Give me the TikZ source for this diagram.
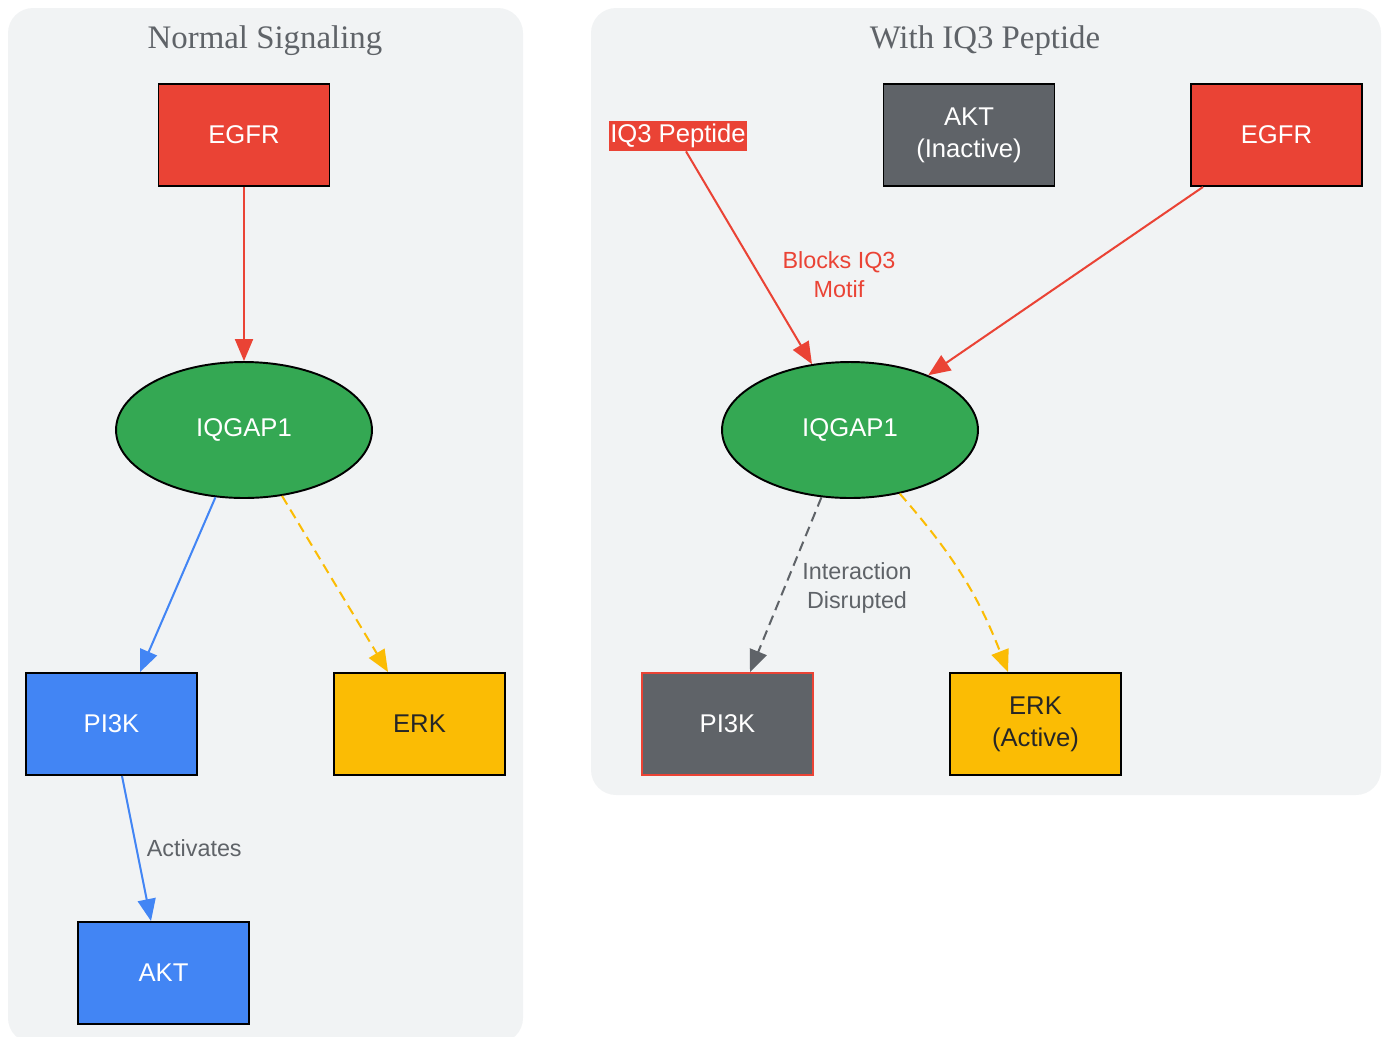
\documentclass[tikz,border=0pt]{standalone}
\usepackage{fontspec}
\setmainfont{Liberation Sans}
\newfontfamily\titelfont{Liberation Serif}
\usetikzlibrary{shapes.geometric,arrows.meta,calc}
\definecolor{grot}{HTML}{EA4335}
\definecolor{gblau}{HTML}{4285F4}
\definecolor{ggelb}{HTML}{FBBC04}
\definecolor{ggruen}{HTML}{34A853}
\definecolor{ggrau}{HTML}{5F6368}
\definecolor{hgrund}{HTML}{F1F3F4}
\newcommand{\knotenschrift}{\fontsize{14.6}{18.2}\selectfont}
\newcommand{\kantenschrift}{\fontsize{13.3}{16.5}\selectfont}
\tikzset{
  kasten/.style={draw=black, line width=1.1pt, minimum width=3.42cm,
    minimum height=2.04cm, text=white, font=\knotenschrift, align=center},
  oval/.style={ellipse, draw=black, line width=1.1pt, fill=ggruen, inner sep=0pt,
    minimum width=5.12cm, minimum height=2.72cm, text=white, font=\knotenschrift},
  cluster/.style={fill=hgrund, rounded corners=0.5cm},
  titel/.style={text=ggrau, font=\titelfont\fontsize{18.7}{22}\selectfont},
  pfeil/.style={line width=1.15pt, -{Triangle[length=0.44cm,width=0.36cm]}},
  gestrichelt/.style={pfeil, dash pattern=on 0.2cm off 0.12cm},
  marke/.style={font=\kantenschrift, align=center}
}
\begin{document}
\begin{tikzpicture}[x=0.02cm, y=-0.02cm]
  \useasboundingbox (0,0) rectangle (1387,1036);
  % Cluster
  \fill [cluster] (8,8) rectangle (523,1043);
  \fill [cluster] (591,8) rectangle (1381,795);
  \node [titel] (tlinks)  at (265,41) {Normal Signaling};
  \node [titel] (trechts) at (985,41) {With IQ3 Peptide};

  % Normal Signaling
  \node [kasten, fill=grot]  (egfrL) at (244,135)   {EGFR};
  \node [oval]               (iqL)   at (244,430)   {IQGAP1};
  \node [kasten, fill=gblau] (pikL)  at (111.5,724) {PI3K};
  \node [kasten, fill=ggelb, text=black!85] (erkL) at (419.5,724) {ERK};
  \node [kasten, fill=gblau] (aktL)  at (163.5,973) {AKT};

  \draw [pfeil, grot]  (egfrL) -- (iqL);
  \draw [pfeil, gblau] (iqL.247) -- ($(pikL.north)+(28.5,0)$);
  \draw [gestrichelt, ggelb] (iqL.300) -- ($(erkL.north)+(-31.5,0)$);
  \draw [pfeil, gblau] ($(pikL.south)+(10.5,0)$) -- ($(aktL.north)+(-12.5,0)$)
    node [marke, text=ggrau, pos=0.5, anchor=west, xshift=2pt] (lakt) {Activates};

  % With IQ3 Peptide
  \node [fill=grot, text=white, font=\knotenschrift, inner sep=1pt,
    minimum height=0.6cm] (pep) at (678,136) {IQ3 Peptide};
  \node [kasten, fill=ggrau] (aktR)  at (969,135)    {AKT\\(Inactive)};
  \node [kasten, fill=grot]  (egfrR) at (1276.5,135) {EGFR};
  \node [oval]               (iqR)   at (850,430)    {IQGAP1};
  \node [kasten, fill=ggrau, draw=grot] (pikR) at (727.5,724) {PI3K};
  \node [kasten, fill=ggelb, text=black!85] (erkR) at (1035.5,724) {ERK\\(Active)};

  \draw [pfeil, grot] ($(pep.south)+(8,0)$) -- (iqR.120);
  \node [marke, text=grot] (lblock) at (839,275) {Blocks IQ3\\Motif};
  \draw [pfeil, grot] ($(egfrR.south)+(-73.5,0)$) -- (iqR.35);
  \draw [gestrichelt, ggrau] (iqR.247) -- ($(pikR.north)+(22.5,0)$);
  \node [marke, text=ggrau] (lstoer) at (857,588) {Interaction\\Disrupted};
  \draw [gestrichelt, ggelb] (iqR.308) to [bend left=10] ($(erkR.north)+(-27.5,0)$);
\end{tikzpicture}
\end{document}
